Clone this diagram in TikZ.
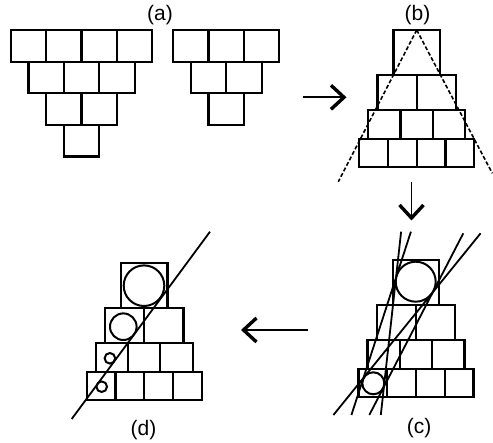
\documentclass[tikz,border=0pt]{standalone}
\usepackage{fontspec}
\setmainfont{Liberation Sans}
\usetikzlibrary{arrows.meta}

% one brick of the inverted stacks
\newcommand\brick[2]{\draw[brickline] ({#1},{#2}) rectangle ++(35.4,31.65);}

% upright pyramid of 1,2,3,4 bricks, top centre at (#1,#2)
\newcommand\brickpyr[2]{%
  \begin{scope}[shift={(#1,#2)}]
    \draw[brickline] (-23.2,0) rectangle (23.2,45);
    \draw[brickline] (-39.3,45) rectangle (39.3,80.3);
    \draw[brickline] (0,45) -- (0,80.3);
    \draw[brickline] (-48.5,80.3) rectangle (48.5,109.3);
    \draw[brickline] (-16.17,80.3) -- (-16.17,109.3) (16.17,80.3) -- (16.17,109.3);
    \draw[brickline] (-57.5,109.3) rectangle (57.5,137.3);
    \draw[brickline] (-28.75,109.3) -- (-28.75,137.3) (0,109.3) -- (0,137.3)
                     (28.75,109.3) -- (28.75,137.3);
  \end{scope}}

\tikzset{
  brickline/.style={line width=2.2pt, line join=miter},
  ballline/.style={line width=2pt},
  tanline/.style={line width=1.8pt},
  guideline/.style={line width=1.6pt, dash pattern=on 4pt off 2.2pt},
  panelarrow/.style={line width=1.7pt,
    -{Straight Barb[length=13pt, width=24pt, line width=3.4pt]}},
  panellabel/.style={inner sep=0pt, font=\fontsize{21}{25}\selectfont}
}

\begin{document}
\begin{tikzpicture}[x=1pt, y=-1pt]
  \useasboundingbox (0,0) rectangle (493,443);

  % ---- (a): two inverted stacks
  \foreach \r/\n in {0/4,1/3,2/2,3/1}{
    \foreach \i in {1,...,\n}{
      \brick{10.7+17.7*\r+35.4*(\i-1)}{30+31.65*\r}
    }
  }
  \foreach \r/\n in {0/3,1/2,2/1}{
    \foreach \i in {1,...,\n}{
      \brick{173.1+17.7*\r+35.4*(\i-1)}{30+31.65*\r}
    }
  }
  \node[panellabel] (la) at (160,15.5) {(a)};

  % ---- (b): upright pyramid with the dashed cone
  \brickpyr{416.7}{30}
  \coordinate (apex) at (416.7,30);
  \coordinate (coneL) at (338.3,181.7);
  \coordinate (coneR) at (492.3,173.3);
  \draw[guideline] (apex) -- (coneL) (apex) -- (coneR);
  \node[panellabel] (lb) at (417.5,15.5) {(b)};

  % ---- (c): pyramid with two balls and their four common tangents
  \brickpyr{416}{260}
  \node[ballline, draw, circle, minimum size=40pt, inner sep=0pt] (bigc) at (415.7,281.7) {};
  \node[ballline, draw, circle, minimum size=22pt, inner sep=0pt] (smallc) at (373.3,383.3) {};
  \coordinate (t1a) at (410.9,231.7); \coordinate (t1b) at (351.4,415);
  \coordinate (t2a) at (463.3,233.3); \coordinate (t2b) at (369.3,415);
  \coordinate (t3a) at (401.1,231.7); \coordinate (t3b) at (380.8,415);
  \coordinate (t4a) at (480.6,233.3); \coordinate (t4b) at (333.4,415);
  \draw[tanline] (t1a) -- (t1b) (t2a) -- (t2b) (t3a) -- (t3b) (t4a) -- (t4b);
  \node[panellabel] (lc) at (419,428.5) {(c)};

  % ---- (d): pyramid with four balls touching one line
  \brickpyr{144.2}{263}
  \node[ballline, draw, circle, minimum size=40.6pt, inner sep=0pt] (d1) at (144,285.7) {};
  \node[ballline, draw, circle, minimum size=26.6pt, inner sep=0pt] (d2) at (123.3,326.7) {};
  \node[ballline, draw, circle, minimum size=10.6pt, inner sep=0pt] (d3) at (109.9,358.3) {};
  \node[ballline, draw, circle, minimum size=10.6pt, inner sep=0pt] (d4) at (101.7,386.7) {};
  \coordinate (dla) at (71.7,419);
  \coordinate (dlb) at (210,231.7);
  \draw[tanline] (dla) -- (dlb);
  \node[panellabel] (ld) at (143.5,430) {(d)};

  % ---- arrows between the panels
  \coordinate (ab0) at (303,97.3);  \coordinate (ab1) at (346.5,97.3);
  \coordinate (bc0) at (411.5,182); \coordinate (bc1) at (411.5,220.5);
  \coordinate (cd0) at (307.5,330); \coordinate (cd1) at (241,330);
  \draw[panelarrow] (ab0) -- (ab1);
  \draw[panelarrow] (bc0) -- (bc1);
  \draw[panelarrow] (cd0) -- (cd1);
\end{tikzpicture}
\end{document}
